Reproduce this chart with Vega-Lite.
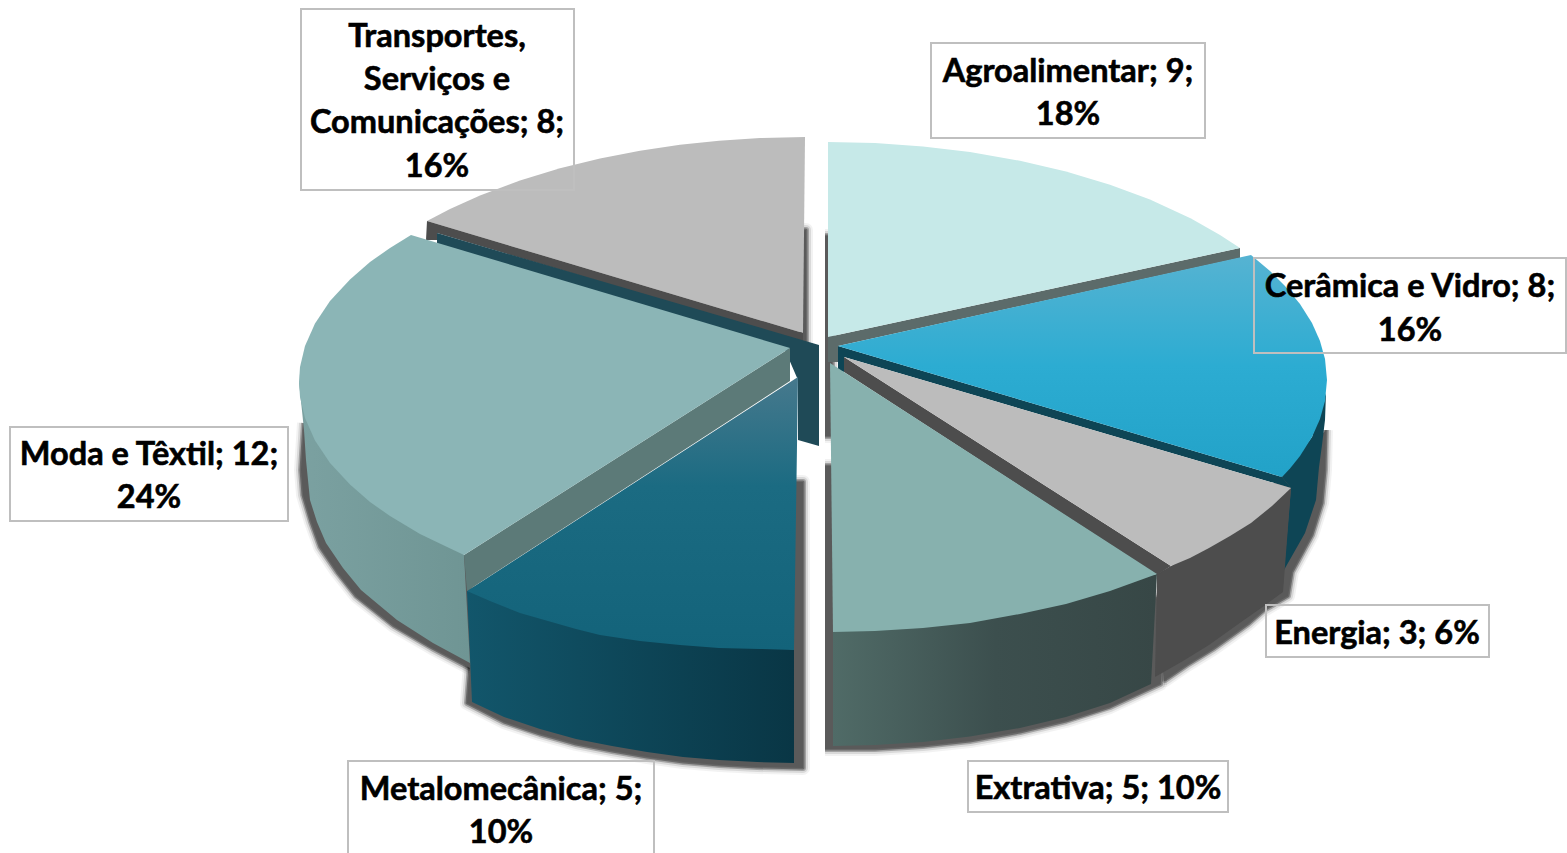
{
"$schema":"https://vega.github.io/schema/vega-lite/v6.json",
"autosize":{"type":"fit","contains":"padding"},"padding":0,"width":1567,"height":853,"background":"white",
"config":{"view":{"stroke":null}},
"datasets":{
"sombra":[
{"part":"moda","x":304,"y":423},{"part":"moda","x":301,"y":470},{"part":"moda","x":303,"y":495},{"part":"moda","x":311,"y":522},{"part":"moda","x":320,"y":547},{"part":"moda","x":337,"y":572},{"part":"moda","x":356,"y":596},{"part":"moda","x":394,"y":626},{"part":"moda","x":432,"y":648},{"part":"moda","x":470,"y":668},{"part":"moda","x":470,"y":560},
{"part":"metalo","x":470,"y":665},{"part":"metalo","x":467,"y":703},{"part":"metalo","x":504,"y":722},{"part":"metalo","x":540,"y":734},{"part":"metalo","x":576,"y":744},{"part":"metalo","x":612,"y":751},{"part":"metalo","x":647,"y":757},{"part":"metalo","x":683,"y":762},{"part":"metalo","x":719,"y":765},{"part":"metalo","x":757,"y":767},{"part":"metalo","x":803,"y":768},{"part":"metalo","x":803,"y":482},{"part":"metalo","x":790,"y":482},
{"part":"extrativa","x":825,"y":466},{"part":"extrativa","x":835,"y":466},{"part":"extrativa","x":1160,"y":600},{"part":"extrativa","x":1160,"y":684},{"part":"extrativa","x":1110,"y":707},{"part":"extrativa","x":1066,"y":721},{"part":"extrativa","x":1020,"y":732},{"part":"extrativa","x":970,"y":741},{"part":"extrativa","x":923,"y":746},{"part":"extrativa","x":875,"y":749},{"part":"extrativa","x":825,"y":749},
{"part":"direita","x":1326,"y":430},{"part":"direita","x":1325,"y":470},{"part":"direita","x":1322,"y":503},{"part":"direita","x":1312,"y":535},{"part":"direita","x":1292,"y":572},{"part":"direita","x":1288,"y":596},{"part":"direita","x":1264,"y":610},{"part":"direita","x":1248,"y":624},{"part":"direita","x":1213,"y":649},{"part":"direita","x":1187,"y":665},{"part":"direita","x":1165,"y":680},{"part":"direita","x":1160,"y":600},
{"part":"centroA","x":800,"y":230},{"part":"centroA","x":806,"y":230},{"part":"centroA","x":806,"y":344},{"part":"centroA","x":800,"y":344},
{"part":"centroB","x":825,"y":236},{"part":"centroB","x":832,"y":236},{"part":"centroB","x":832,"y":436},{"part":"centroB","x":825,"y":436}
],
"pecas":[
{"part":"transportes_topo","x":803,"y":333},{"part":"transportes_topo","x":805,"y":137},{"part":"transportes_topo","x":760,"y":138},{"part":"transportes_topo","x":719,"y":140.7},{"part":"transportes_topo","x":680,"y":144.7},{"part":"transportes_topo","x":640,"y":150.7},{"part":"transportes_topo","x":600,"y":158.4},{"part":"transportes_topo","x":560,"y":168.3},{"part":"transportes_topo","x":520,"y":180.5},{"part":"transportes_topo","x":480,"y":195.5},{"part":"transportes_topo","x":450,"y":209},{"part":"transportes_topo","x":427,"y":221},
{"part":"transportes_corte","x":427,"y":221},{"part":"transportes_corte","x":803,"y":333},{"part":"transportes_corte","x":803,"y":342},{"part":"transportes_corte","x":437,"y":233},{"part":"transportes_corte","x":437,"y":240},{"part":"transportes_corte","x":426,"y":240},
{"part":"painel","x":437,"y":233},{"part":"painel","x":819,"y":345},{"part":"painel","x":819,"y":446},{"part":"painel","x":798,"y":440},{"part":"painel","x":798,"y":380},{"part":"painel","x":785,"y":350},{"part":"painel","x":437,"y":248},
{"part":"agro_corte","x":828,"y":337},{"part":"agro_corte","x":1240,"y":248},{"part":"agro_corte","x":1240,"y":258},{"part":"agro_corte","x":838,"y":346},{"part":"agro_corte","x":838,"y":362},{"part":"agro_corte","x":828,"y":362},
{"part":"agro_topo","x":828,"y":337},{"part":"agro_topo","x":828,"y":142},{"part":"agro_topo","x":875,"y":143},{"part":"agro_topo","x":923,"y":146.5},{"part":"agro_topo","x":970,"y":152},{"part":"agro_topo","x":1020,"y":160.8},{"part":"agro_topo","x":1066,"y":171.5},{"part":"agro_topo","x":1110,"y":184.7},{"part":"agro_topo","x":1150,"y":199.6},{"part":"agro_topo","x":1191,"y":218.5},{"part":"agro_topo","x":1220,"y":235},{"part":"agro_topo","x":1240,"y":248},
{"part":"ceramica_lado","x":1326,"y":393},{"part":"ceramica_lado","x":1325,"y":420},{"part":"ceramica_lado","x":1322,"y":445},{"part":"ceramica_lado","x":1319,"y":467},{"part":"ceramica_lado","x":1316,"y":500},{"part":"ceramica_lado","x":1305,"y":533},{"part":"ceramica_lado","x":1284,"y":570},{"part":"ceramica_lado","x":1291,"y":488},{"part":"ceramica_lado","x":1282,"y":477},{"part":"ceramica_lado","x":1312,"y":437},
{"part":"ceramica_corte","x":838,"y":346},{"part":"ceramica_corte","x":1282,"y":477},{"part":"ceramica_corte","x":1291,"y":488},{"part":"ceramica_corte","x":844,"y":357},{"part":"ceramica_corte","x":844,"y":372},{"part":"ceramica_corte","x":838,"y":370},
{"part":"ceramica_topo","x":838,"y":346},{"part":"ceramica_topo","x":1251,"y":255},{"part":"ceramica_topo","x":1270,"y":271},{"part":"ceramica_topo","x":1285,"y":286},{"part":"ceramica_topo","x":1300,"y":304},{"part":"ceramica_topo","x":1312,"y":323},{"part":"ceramica_topo","x":1320,"y":341},{"part":"ceramica_topo","x":1325,"y":359},{"part":"ceramica_topo","x":1327,"y":380},{"part":"ceramica_topo","x":1325,"y":401},{"part":"ceramica_topo","x":1320,"y":419},{"part":"ceramica_topo","x":1312,"y":437},{"part":"ceramica_topo","x":1300,"y":456},{"part":"ceramica_topo","x":1290,"y":468.5},{"part":"ceramica_topo","x":1282,"y":477},
{"part":"energia_lado","x":1171,"y":566},{"part":"energia_lado","x":1291,"y":488},{"part":"energia_lado","x":1283,"y":592},{"part":"energia_lado","x":1264,"y":606},{"part":"energia_lado","x":1244,"y":620},{"part":"energia_lado","x":1209,"y":645},{"part":"energia_lado","x":1183,"y":661},{"part":"energia_lado","x":1155,"y":677},{"part":"energia_lado","x":1157,"y":574},
{"part":"energia_corte","x":844,"y":357},{"part":"energia_corte","x":1171,"y":566},{"part":"energia_corte","x":1157,"y":575},{"part":"energia_corte","x":844,"y":372},
{"part":"energia_topo","x":844,"y":357},{"part":"energia_topo","x":1291,"y":488},{"part":"energia_topo","x":1272,"y":506},{"part":"energia_topo","x":1251,"y":523},{"part":"energia_topo","x":1230,"y":536},{"part":"energia_topo","x":1209,"y":548},{"part":"energia_topo","x":1190,"y":558},{"part":"energia_topo","x":1171,"y":566},
{"part":"extrativa_lado","x":833,"y":632},{"part":"extrativa_lado","x":833,"y":746},{"part":"extrativa_lado","x":875,"y":745},{"part":"extrativa_lado","x":923,"y":742},{"part":"extrativa_lado","x":970,"y":736.5},{"part":"extrativa_lado","x":1020,"y":728},{"part":"extrativa_lado","x":1066,"y":717},{"part":"extrativa_lado","x":1110,"y":703},{"part":"extrativa_lado","x":1151,"y":684},{"part":"extrativa_lado","x":1157,"y":574},
{"part":"extrativa_topo","x":830,"y":363},{"part":"extrativa_topo","x":1157,"y":574},{"part":"extrativa_topo","x":1110,"y":591},{"part":"extrativa_topo","x":1066,"y":604},{"part":"extrativa_topo","x":1020,"y":614},{"part":"extrativa_topo","x":970,"y":623},{"part":"extrativa_topo","x":923,"y":628},{"part":"extrativa_topo","x":875,"y":631},{"part":"extrativa_topo","x":833,"y":632},
{"part":"metalo_lado","x":467,"y":591},{"part":"metalo_lado","x":472,"y":702},{"part":"metalo_lado","x":504,"y":717},{"part":"metalo_lado","x":540,"y":729},{"part":"metalo_lado","x":576,"y":739},{"part":"metalo_lado","x":612,"y":746},{"part":"metalo_lado","x":647,"y":752},{"part":"metalo_lado","x":683,"y":757},{"part":"metalo_lado","x":719,"y":760},{"part":"metalo_lado","x":757,"y":762},{"part":"metalo_lado","x":794,"y":763},{"part":"metalo_lado","x":794,"y":650},
{"part":"metalo_topo","x":798,"y":377},{"part":"metalo_topo","x":467,"y":591},{"part":"metalo_topo","x":490,"y":601},{"part":"metalo_topo","x":520,"y":613},{"part":"metalo_topo","x":576,"y":629},{"part":"metalo_topo","x":600,"y":635},{"part":"metalo_topo","x":640,"y":641},{"part":"metalo_topo","x":680,"y":645},{"part":"metalo_topo","x":719,"y":648},{"part":"metalo_topo","x":760,"y":649},{"part":"metalo_topo","x":794,"y":650},
{"part":"moda_lado","x":299,"y":382},{"part":"moda_lado","x":304,"y":430},{"part":"moda_lado","x":306,"y":460},{"part":"moda_lado","x":310,"y":500},{"part":"moda_lado","x":317,"y":522},{"part":"moda_lado","x":326,"y":543},{"part":"moda_lado","x":343,"y":568},{"part":"moda_lado","x":361,"y":590},{"part":"moda_lado","x":397,"y":620},{"part":"moda_lado","x":433,"y":643},{"part":"moda_lado","x":470,"y":663},{"part":"moda_lado","x":464,"y":555},
{"part":"moda_corte","x":790,"y":348},{"part":"moda_corte","x":464,"y":555},{"part":"moda_corte","x":467,"y":591},{"part":"moda_corte","x":790,"y":381},
{"part":"moda_topo","x":790,"y":348},{"part":"moda_topo","x":411,"y":235},{"part":"moda_topo","x":390,"y":248},{"part":"moda_topo","x":370,"y":262},{"part":"moda_topo","x":350,"y":279.5},{"part":"moda_topo","x":330,"y":301},{"part":"moda_topo","x":315,"y":323.5},{"part":"moda_topo","x":305,"y":346},{"part":"moda_topo","x":300,"y":367},{"part":"moda_topo","x":299,"y":382},{"part":"moda_topo","x":300,"y":397},{"part":"moda_topo","x":305,"y":418},{"part":"moda_topo","x":315,"y":440.5},{"part":"moda_topo","x":330,"y":463},{"part":"moda_topo","x":350,"y":484.5},{"part":"moda_topo","x":370,"y":502},{"part":"moda_topo","x":390,"y":516},{"part":"moda_topo","x":420,"y":534},{"part":"moda_topo","x":445,"y":546},{"part":"moda_topo","x":464,"y":555}
],
"caixas":[
{"setor":"Transportes, Serviços e Comunicações","x0":301,"x1":574,"y0":9,"y1":190},
{"setor":"Agroalimentar","x0":931,"x1":1205,"y0":43,"y1":138},
{"setor":"Cerâmica e Vidro","x0":1254,"x1":1566,"y0":258,"y1":353},
{"setor":"Energia","x0":1266,"x1":1489,"y0":605,"y1":657},
{"setor":"Extrativa","x0":968,"x1":1228,"y0":761,"y1":812},
{"setor":"Metalomecânica","x0":348,"x1":654,"y0":761,"y1":875},
{"setor":"Moda e Têxtil","x0":10,"x1":288,"y0":427,"y1":521}
],
"textos":[
{"t":"Transportes,","x":437,"y":37},{"t":"Serviços e","x":437,"y":80},{"t":"Comunicações; 8;","x":437,"y":123},{"t":"16%","x":437,"y":167},
{"t":"Agroalimentar; 9;","x":1068,"y":72},{"t":"18%","x":1068,"y":115},
{"t":"Cerâmica e Vidro; 8;","x":1410,"y":287},{"t":"16%","x":1410,"y":331},
{"t":"Energia; 3; 6%","x":1377,"y":634},
{"t":"Extrativa; 5; 10%","x":1098,"y":789},
{"t":"Metalomecânica; 5;","x":501,"y":790},{"t":"10%","x":501,"y":833},
{"t":"Moda e Têxtil; 12;","x":149,"y":455},{"t":"24%","x":149,"y":498}
]
},
"data":{"name":"pecas"},
"encoding":{
"x":{"field":"x","type":"quantitative","axis":null,"scale":{"domain":[0,1567],"nice":false,"zero":false}},
"y":{"field":"y","type":"quantitative","axis":null,"scale":{"domain":[853,0],"nice":false,"zero":false}}
},
"layer":[
{"data":{"name":"sombra"},"mark":{"type":"line","filled":false,"fill":null,"stroke":"#000000","strokeWidth":14,"strokeJoin":"round","opacity":0.05},"encoding":{"detail":{"field":"part"},"order":{"value":null}}},
{"data":{"name":"sombra"},"mark":{"type":"line","filled":false,"fill":null,"stroke":"#000000","strokeWidth":10,"strokeJoin":"round","opacity":0.1},"encoding":{"detail":{"field":"part"},"order":{"value":null}}},
{"data":{"name":"sombra"},"mark":{"type":"line","filled":false,"fill":null,"stroke":"#000000","strokeWidth":6,"strokeJoin":"round","opacity":0.25},"encoding":{"detail":{"field":"part"},"order":{"value":null}}},
{"data":{"name":"sombra"},"mark":{"type":"line","filled":false,"fill":null,"stroke":"#000000","strokeWidth":3,"strokeJoin":"round","opacity":0.35},"encoding":{"detail":{"field":"part"},"order":{"value":null}}},
{"data":{"name":"sombra"},"mark":{"type":"line","filled":true,"fill":"#5a5a5a","stroke":null},"encoding":{"detail":{"field":"part"},"order":{"value":null}}},
{"transform":[{"filter":{"field":"part","equal":"transportes_topo"}}],"mark":{"type":"line","filled":true,"fill":"#bcbcbc","stroke":null},"encoding":{"order":{"value":null}}},
{"transform":[{"filter":{"field":"part","equal":"transportes_corte"}}],"mark":{"type":"line","filled":true,"fill":"#4d4d4d","stroke":null},"encoding":{"order":{"value":null}}},
{"transform":[{"filter":{"field":"part","equal":"painel"}}],"mark":{"type":"line","filled":true,"fill":"#1f4a57","stroke":null},"encoding":{"order":{"value":null}}},
{"transform":[{"filter":{"field":"part","equal":"agro_corte"}}],"mark":{"type":"line","filled":true,"fill":"#5c6b6a","stroke":null},"encoding":{"order":{"value":null}}},
{"transform":[{"filter":{"field":"part","equal":"agro_topo"}}],"mark":{"type":"line","filled":true,"fill":"#c6e9e8","stroke":null},"encoding":{"order":{"value":null}}},
{"transform":[{"filter":{"field":"part","equal":"ceramica_lado"}}],"mark":{"type":"line","filled":true,"fill":"#0e4555","stroke":null},"encoding":{"order":{"value":null}}},
{"transform":[{"filter":{"field":"part","equal":"ceramica_corte"}}],"mark":{"type":"line","filled":true,"fill":"#0e4555","stroke":null},"encoding":{"order":{"value":null}}},
{"transform":[{"filter":{"field":"part","equal":"ceramica_topo"}}],"mark":{"type":"line","filled":true,"stroke":null,"fill":{"gradient":"linear","x1":0,"y1":0,"x2":0,"y2":1,"stops":[{"offset":0,"color":"#56b3d2"},{"offset":0.5,"color":"#2cacd2"},{"offset":1,"color":"#22a2c8"}]}},"encoding":{"order":{"value":null}}},
{"transform":[{"filter":{"field":"part","equal":"energia_lado"}}],"mark":{"type":"line","filled":true,"fill":"#4d4d4d","stroke":null},"encoding":{"order":{"value":null}}},
{"transform":[{"filter":{"field":"part","equal":"energia_corte"}}],"mark":{"type":"line","filled":true,"fill":"#4d4d4d","stroke":null},"encoding":{"order":{"value":null}}},
{"transform":[{"filter":{"field":"part","equal":"energia_topo"}}],"mark":{"type":"line","filled":true,"fill":"#bcbcbc","stroke":null},"encoding":{"order":{"value":null}}},
{"transform":[{"filter":{"field":"part","equal":"extrativa_lado"}}],"mark":{"type":"line","filled":true,"stroke":null,"fill":{"gradient":"linear","x1":0,"y1":0,"x2":1,"y2":0,"stops":[{"offset":0,"color":"#506b67"},{"offset":0.5,"color":"#3c4f4e"},{"offset":1,"color":"#374746"}]}},"encoding":{"order":{"value":null}}},
{"transform":[{"filter":{"field":"part","equal":"extrativa_topo"}}],"mark":{"type":"line","filled":true,"fill":"#87b1ae","stroke":null},"encoding":{"order":{"value":null}}},
{"transform":[{"filter":{"field":"part","equal":"metalo_lado"}}],"mark":{"type":"line","filled":true,"stroke":null,"fill":{"gradient":"linear","x1":0,"y1":0,"x2":1,"y2":0,"stops":[{"offset":0,"color":"#12566b"},{"offset":1,"color":"#093645"}]}},"encoding":{"order":{"value":null}}},
{"transform":[{"filter":{"field":"part","equal":"metalo_topo"}}],"mark":{"type":"line","filled":true,"stroke":null,"fill":{"gradient":"linear","x1":0,"y1":0,"x2":0,"y2":1,"stops":[{"offset":0,"color":"#47798d"},{"offset":0.4,"color":"#1b6b82"},{"offset":1,"color":"#13637a"}]}},"encoding":{"order":{"value":null}}},
{"transform":[{"filter":{"field":"part","equal":"moda_lado"}}],"mark":{"type":"line","filled":true,"stroke":null,"fill":{"gradient":"linear","x1":0,"y1":0,"x2":1,"y2":0,"stops":[{"offset":0,"color":"#7ba1a1"},{"offset":1,"color":"#6f9594"}]}},"encoding":{"order":{"value":null}}},
{"transform":[{"filter":{"field":"part","equal":"moda_corte"}}],"mark":{"type":"line","filled":true,"fill":"#5c7a78","stroke":null},"encoding":{"order":{"value":null}}},
{"transform":[{"filter":{"field":"part","equal":"moda_topo"}}],"mark":{"type":"line","filled":true,"fill":"#8bb5b6","stroke":null},"encoding":{"order":{"value":null}}},
{"data":{"name":"caixas"},"mark":{"type":"rect","fill":null,"stroke":"#bfbfbf","strokeWidth":2,"clip":true},"encoding":{"x":{"field":"x0","type":"quantitative"},"x2":{"field":"x1"},"y":{"field":"y0","type":"quantitative"},"y2":{"field":"y1"}}},
{"data":{"name":"textos"},"mark":{"type":"text","font":"Lato","fontWeight":"bold","fontSize":32.5,"fill":"#000000","stroke":"#000000","strokeWidth":0.6,"align":"center","baseline":"middle"},"encoding":{"text":{"field":"t"}}}
]
}
